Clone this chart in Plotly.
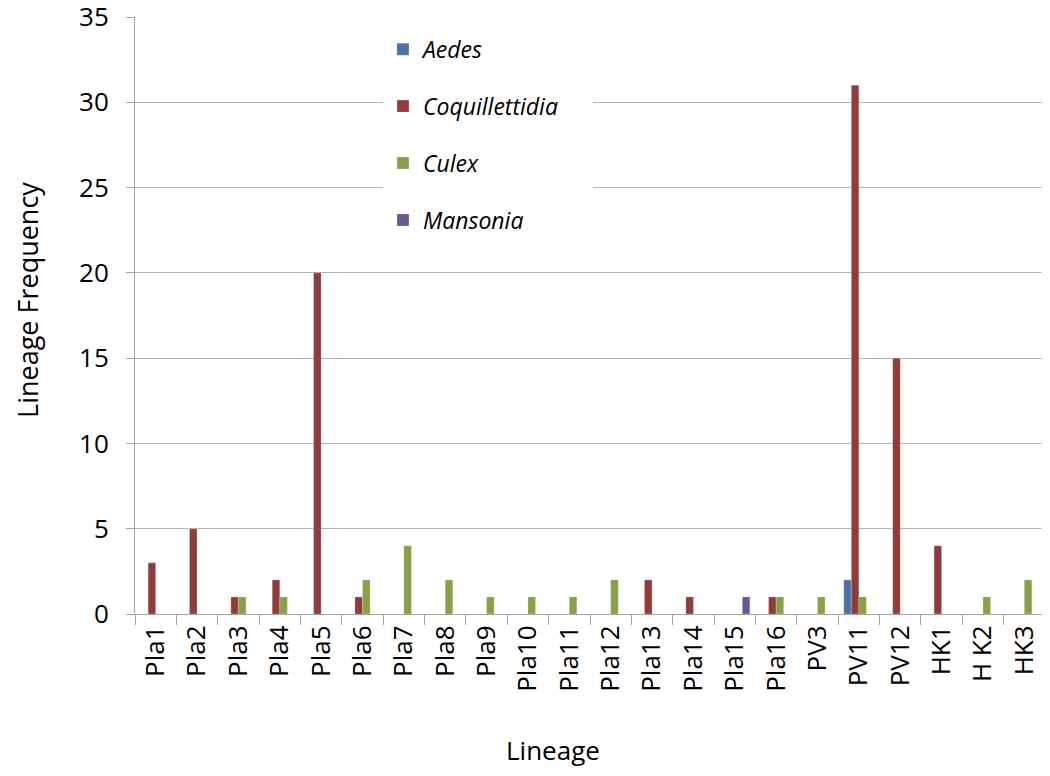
import plotly.graph_objects as go

# Lineages on the x axis
lineages = ['Pla1', 'Pla2', 'Pla3', 'Pla4', 'Pla5', 'Pla6', 'Pla7', 'Pla8', 'Pla9', 'Pla10',
            'Pla11', 'Pla12', 'Pla13', 'Pla14', 'Pla15', 'Pla16', 'PV3', 'PV11', 'PV12',
            'HK1', 'H K2', 'HK3']

# Frequencies per mosquito genus
aedes = [0, 0, 0, 0, 0, 0, 0, 0, 0, 0, 0, 0, 0, 0, 0, 0, 0, 2, 0, 0, 0, 0]
coquillettidia = [3, 5, 1, 2, 20, 1, 0, 0, 0, 0, 0, 0, 2, 1, 0, 1, 0, 31, 15, 4, 0, 0]
culex = [0, 0, 1, 1, 0, 2, 4, 2, 1, 1, 1, 2, 0, 0, 0, 1, 1, 1, 0, 0, 1, 2]
mansonia = [0, 0, 0, 0, 0, 0, 0, 0, 0, 0, 0, 0, 0, 0, 1, 0, 0, 0, 0, 0, 0, 0]

series = [('Aedes', aedes, '#4A72A8'),
          ('Coquillettidia', coquillettidia, '#8F3D3A'),
          ('Culex', culex, '#88A048'),
          ('Mansonia', mansonia, '#6A5890')]

fig = go.Figure()
for name, vals, col in series:
    label = '<i>' + name + '</i>'
    if name == 'Coquillettidia':
        label += '&nbsp;' * 5  # widen the legend box a little, like the original
    fig.add_trace(go.Bar(
        name=label, x=lineages, y=vals,
        marker=dict(color=col, line=dict(color='rgba(255,255,255,0.35)', width=0.6)),
        legendgroup=name,
    ))

font = 'Open Sans, Lato, sans-serif'
# the page adds an 8px body margin, so margins are shifted to compensate
fig.update_layout(
    width=1050, height=776,
    barmode='group', bargap=0.27, bargroupgap=0,
    plot_bgcolor='white', paper_bgcolor='white',
    margin=dict(l=127, r=13, t=9, b=170),
    font=dict(family=font, color='black'),
    legend=dict(x=0.2725, y=0.982, xanchor='left', yanchor='top',
                bgcolor='white', font=dict(size=23, family=font),
                traceorder='grouped', tracegroupgap=24),
    showlegend=True,
)
# axis titles as annotations so they sit where the original has them
fig.add_annotation(text='Lineage Frequency', xref='paper', yref='paper',
                   x=-0.1176, y=0.526, textangle=-90, showarrow=False,
                   font=dict(size=27), xanchor='center', yanchor='middle')
fig.add_annotation(text='Lineage', xref='paper', yref='paper',
                   x=0.459, y=-0.228, showarrow=False,
                   font=dict(size=26), xanchor='center', yanchor='middle')
fig.update_xaxes(
    tickangle=-90, tickfont=dict(size=26), automargin=False,
    showline=True, linecolor='#A6A6A6', linewidth=1,
    ticks='outside', tickson='boundaries', ticklen=10, tickcolor='#A6A6A6',
)
fig.update_yaxes(
    range=[0, 35], dtick=5, tickfont=dict(size=26), automargin=False,
    ticklabeloverflow='allow', ticklabelstandoff=12,
    showline=True, linecolor='#A6A6A6', linewidth=1,
    ticks='outside', ticklen=8, tickcolor='#A6A6A6',
    showgrid=True, gridcolor='#B5B5B5', gridwidth=1, zeroline=False,
)

fig.write_html("out.html")
